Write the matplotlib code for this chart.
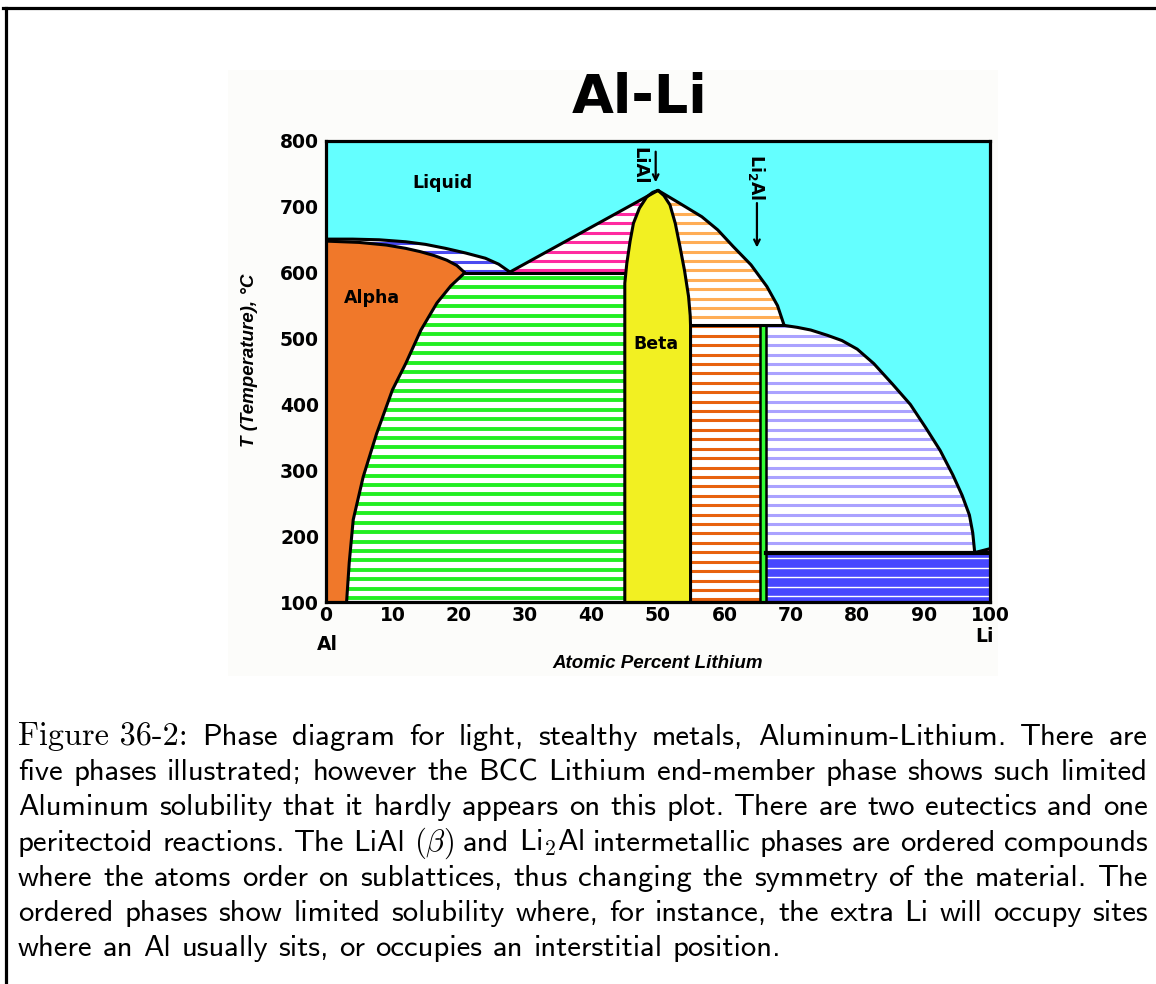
"""Al-Li phase diagram with its figure caption."""

import matplotlib

matplotlib.use("Agg")
import matplotlib.pyplot as plt
import numpy as np
from matplotlib.lines import Line2D
from matplotlib.patches import Polygon, Rectangle

plt.rcParams["mathtext.fontset"] = "cm"

W, H = 1156, 984
LABEL_FONT = ["Liberation Sans", "DejaVu Sans"]

# axis ticks
X_TICKS = [0, 10, 20, 30, 40, 50, 60, 70, 80, 90, 100]
Y_TICKS = [100, 200, 300, 400, 500, 600, 700, 800]

# phase boundaries, atomic % Li vs temperature (deg C)
ALPHA_LIQUIDUS_X = [0, 4, 8, 12, 15, 18, 21, 24, 26, 27.7]
ALPHA_LIQUIDUS_T = [651, 651, 650, 647, 643, 637, 630, 622, 613, 601]
ALPHA_SOLIDUS_X = [0, 5, 9.1, 12, 14.2, 16.3, 18.2, 19.7, 20.9]
ALPHA_SOLIDUS_T = [648, 646, 642, 637, 632, 626, 619, 611, 600]
ALPHA_SOLVUS_X = [20.9, 18.8, 16.7, 14.3, 12.0, 10.0, 7.6, 5.6, 4.1, 3.5, 3.1]
ALPHA_SOLVUS_T = [600, 580, 554, 513, 462, 422, 355, 290, 225, 160, 100]
EUTECTIC_AL_T = 600

BETA_LEFT_X = [45.0, 45.0, 45.3, 45.8, 46.3, 47.2, 48.3, 49.2, 50.0]
BETA_LEFT_T = [100, 584, 614, 648, 675, 698, 715, 722, 725]
BETA_RIGHT_X = [50.0, 50.9, 51.8, 52.6, 53.3, 54.0, 54.6, 54.85, 54.9, 54.9]
BETA_RIGHT_T = [725, 717, 703, 675, 640, 603, 564, 535, 520, 100]
BETA_LIQUIDUS_X = [50.0, 53.0, 56.6, 59.0, 61.3, 64.0, 66.4, 68.0, 69.0]
BETA_LIQUIDUS_T = [725, 707, 685, 665, 640, 612, 579, 550, 520]
PERITECTIC_T = 520

LI2AL_LEFT, LI2AL_RIGHT = 65.4, 66.2
LI2AL_LIQUIDUS_X = [69.0, 71.0, 73.0, 75.5, 77.7, 80.0, 82.5, 85.3, 88.0,
                    90.3, 92.5, 94.4, 95.8, 96.9, 97.4, 97.7]
LI2AL_LIQUIDUS_T = [520, 517, 513, 505, 497, 484, 462, 431, 400,
                    365, 330, 293, 262, 232, 205, 175]
EUTECTIC_LI_T = 175
LI_LIQUIDUS_X = [97.7, 100]
LI_LIQUIDUS_T = [175, 181]

CAPTION_LABEL = "Figure 36-2:"
CAPTION_LINES = [
    "Phase diagram for light, stealthy metals, Aluminum-Lithium. There are",
    "five phases illustrated; however the BCC Lithium end-member phase shows such limited",
    "Aluminum solubility that it hardly appears on this plot. There are two eutectics and one",
    r"peritectoid reactions. The LiAl $(\beta)$ and Li$_\mathrm{2}$Al intermetallic phases are ordered compounds",
    "where the atoms order on sublattices, thus changing the symmetry of the material. The",
    "ordered phases show limited solubility where, for instance, the extra Li will occupy sites",
    "where an Al usually sits, or occupies an interstitial position.",
]

STRIPE_STEP = 14.3


def hatched(ax, xs, ys, color, lw, base="white", offset=0.0):
    """Fill a region and lay horizontal stripes over it."""
    poly = Polygon(np.column_stack([xs, ys]), closed=True, facecolor=base,
                   edgecolor="none", zorder=2)
    ax.add_patch(poly)
    levels = np.arange(100 + offset, 800, STRIPE_STEP)
    lines = ax.hlines(levels, 0, 100, colors=color, lw=lw, zorder=3)
    lines.set_clip_path(poly)
    return poly


fig = plt.figure(figsize=(W / 100, H / 100), dpi=100)

# page frame and the pasted-in chart background
fig.add_artist(Line2D([3 / W, 1], [1 - 8 / H, 1 - 8 / H], color="black", lw=2.3))
fig.add_artist(Line2D([6 / W, 6 / W], [1 - 8 / H, 0], color="black", lw=2.3))
fig.add_artist(Rectangle((228 / W, 1 - 676 / H), 770 / W, 606 / H,
                         transform=fig.transFigure, facecolor="#fcfcfa",
                         edgecolor="none", zorder=0))

ax = fig.add_axes([326 / W, 1 - 602 / H, 664 / W, 461 / H])
ax.set_xlim(0, 100)
ax.set_ylim(100, 800)
ax.set_facecolor("#64ffff")
for spine in ax.spines.values():
    spine.set_linewidth(2.3)
    spine.set_zorder(10)

# alpha (Al) solid solution
alpha_x = np.concatenate([[0], ALPHA_SOLIDUS_X, ALPHA_SOLVUS_X[1:]])
alpha_t = np.concatenate([[100], ALPHA_SOLIDUS_T, ALPHA_SOLVUS_T[1:]])
ax.add_patch(Polygon(np.column_stack([alpha_x, alpha_t]), closed=True,
                     facecolor="#f0782a", edgecolor="none", zorder=2))

# liquid + alpha
hatched(ax, np.concatenate([ALPHA_LIQUIDUS_X, [ALPHA_SOLIDUS_X[-1]], ALPHA_SOLIDUS_X[::-1]]),
        np.concatenate([ALPHA_LIQUIDUS_T, [EUTECTIC_AL_T], ALPHA_SOLIDUS_T[::-1]]),
        "#4a4af0", 2.2, offset=2)

# alpha + beta
hatched(ax, np.concatenate([ALPHA_SOLVUS_X[::-1], [BETA_LEFT_X[0], BETA_LEFT_X[0]]]),
        np.concatenate([ALPHA_SOLVUS_T[::-1], [EUTECTIC_AL_T, 100]]),
        "#22ee22", 2.8, offset=6)

# beta (LiAl)
beta_x = np.concatenate([BETA_LEFT_X, BETA_RIGHT_X[1:]])
beta_t = np.concatenate([BETA_LEFT_T, BETA_RIGHT_T[1:]])
ax.add_patch(Polygon(np.column_stack([beta_x, beta_t]), closed=True,
                     facecolor="#f2f022", edgecolor="none", zorder=2))

# liquid + beta, Al side
hatched(ax, np.concatenate([[ALPHA_LIQUIDUS_X[-1]], BETA_LEFT_X[::-1][:-1], [BETA_LEFT_X[0]]]),
        np.concatenate([[EUTECTIC_AL_T], BETA_LEFT_T[::-1][:-1], [EUTECTIC_AL_T]]),
        "#ff2aa0", 2.2, offset=3)

# liquid + beta, Li side
hatched(ax, np.concatenate([BETA_LIQUIDUS_X, BETA_RIGHT_X[::-1][1:]]),
        np.concatenate([BETA_LIQUIDUS_T, BETA_RIGHT_T[::-1][1:]]),
        "#ffad55", 2.2, offset=3)

# beta + Li2Al
hatched(ax, [BETA_RIGHT_X[-1], LI2AL_LEFT, LI2AL_LEFT, BETA_RIGHT_X[-1]],
        [100, 100, PERITECTIC_T, PERITECTIC_T], "#e8620e", 2.2, offset=4)

# liquid + Li2Al
hatched(ax, np.concatenate([[LI2AL_RIGHT, LI2AL_RIGHT], LI2AL_LIQUIDUS_X]),
        np.concatenate([[EUTECTIC_LI_T, PERITECTIC_T], LI2AL_LIQUIDUS_T]),
        "#aaa2ff", 2.2, offset=4)

# Li2Al + Li
hatched(ax, [LI2AL_RIGHT, 100, 100, LI2AL_RIGHT],
        [100, 100, EUTECTIC_LI_T, EUTECTIC_LI_T], "white", 1.0,
        base="#4848ff", offset=9)

# liquid + Li sliver
ax.add_patch(Polygon(np.column_stack([LI_LIQUIDUS_X + [100], LI_LIQUIDUS_T + [EUTECTIC_LI_T]]),
                     closed=True, facecolor="#ff66cc", edgecolor="none", zorder=2))

# Li2Al line compound
ax.add_patch(Rectangle((LI2AL_LEFT, 100), LI2AL_RIGHT - LI2AL_LEFT, PERITECTIC_T - 100,
                       facecolor="#33ff33", edgecolor="black", lw=1.8, zorder=5))

# boundary lines
bk = dict(color="black", lw=2.2, zorder=6, solid_capstyle="round", solid_joinstyle="round")
ax.plot(ALPHA_LIQUIDUS_X, ALPHA_LIQUIDUS_T, **bk)
ax.plot(ALPHA_SOLIDUS_X, ALPHA_SOLIDUS_T, **bk)
ax.plot(ALPHA_SOLVUS_X, ALPHA_SOLVUS_T, **bk)
ax.plot([ALPHA_SOLVUS_X[0], BETA_LEFT_X[0]], [EUTECTIC_AL_T, EUTECTIC_AL_T], **bk)
ax.plot([ALPHA_LIQUIDUS_X[-1], BETA_LEFT_X[-1]], [ALPHA_LIQUIDUS_T[-1], BETA_LEFT_T[-1]], **bk)
ax.plot(BETA_LEFT_X, BETA_LEFT_T, **bk)
ax.plot(BETA_RIGHT_X, BETA_RIGHT_T, **bk)
ax.plot(BETA_LIQUIDUS_X, BETA_LIQUIDUS_T, **bk)
ax.plot([BETA_RIGHT_X[-1], LI2AL_LIQUIDUS_X[0]], [PERITECTIC_T, PERITECTIC_T], **bk)
ax.plot(LI2AL_LIQUIDUS_X, LI2AL_LIQUIDUS_T, **bk)
ax.plot([LI2AL_RIGHT, 100], [EUTECTIC_LI_T, EUTECTIC_LI_T], color="black", lw=3.0, zorder=6)
ax.plot(LI_LIQUIDUS_X, LI_LIQUIDUS_T, **bk)

# ticks
ax.set_xticks(X_TICKS)
ax.set_yticks(Y_TICKS)
ax.tick_params(length=0)
ax.tick_params(axis="y", pad=5)
ax.tick_params(axis="x", pad=3)
for lab in ax.get_xticklabels() + ax.get_yticklabels():
    lab.set_fontweight("bold")
    lab.set_fontsize(13.5)

# phase names and compound markers
ax.text(17.6, 736, "Liquid", fontsize=12.5, fontweight="bold", ha="center", va="center", zorder=8)
ax.text(6.9, 562, "Alpha", fontsize=12.5, fontweight="bold", ha="center", va="center", zorder=8)
ax.text(49.7, 492, "Beta", fontsize=12.5, fontweight="bold", ha="center", va="center", zorder=8)
ax.text(47.2, 762, "LiAl", fontsize=13, fontweight="bold", rotation=270,
        ha="center", va="center", zorder=8)
ax.annotate("", xy=(49.65, 733), xytext=(49.65, 788),
            arrowprops=dict(arrowstyle="->", lw=1.6, color="black"), zorder=8)
ax.text(64.9, 746, r"Li$_\mathbf{2}$Al", fontsize=12.5, fontweight="bold", rotation=270,
        ha="center", va="center", math_fontfamily="dejavusans", zorder=8)
ax.annotate("", xy=(64.9, 634), xytext=(64.9, 710),
            arrowprops=dict(arrowstyle="->", lw=1.6, color="black"), zorder=8)

# titles and axis labels
fig.text(639.5 / W, 1 - 98 / H, "Al-Li", fontsize=39, fontweight="bold", ha="center", va="center")
fig.text(327 / W, 1 - 645 / H, "Al", fontsize=13.5, fontweight="bold", ha="center", va="center")
fig.text(984 / W, 1 - 637 / H, "Li", fontsize=13.5, fontweight="bold", ha="center", va="center")
fig.text(658 / W, 1 - 664 / H, "Atomic Percent Lithium", family=LABEL_FONT, fontsize=13.5,
         fontweight="bold", style="italic", ha="center", va="center")
fig.text(249 / W, 1 - 360 / H, "T (Temperature), °C", family=LABEL_FONT, fontsize=13.5,
         fontweight="bold", style="italic", rotation=90, ha="center", va="center")

# caption, justified word by word
renderer = fig.canvas.get_renderer()


def text_width(s, **kw):
    t = fig.text(0, 0, s, **kw)
    w = t.get_window_extent(renderer).width
    t.remove()
    return w


LEFT, RIGHT = 18, 1148
trial = 20
last_w = text_width(CAPTION_LINES[-1], family="cmss10", fontsize=trial)
cap_fs = trial * (783 - LEFT) / last_w
space_w = text_width("a a", family="cmss10", fontsize=cap_fs) - text_width("aa", family="cmss10", fontsize=cap_fs)

for i, line in enumerate(CAPTION_LINES):
    y = 1 - (745 + i * 35.2) / H
    words = line.split(" ")
    texts = []
    if i == 0:
        texts.append(fig.text(0, y, CAPTION_LABEL, family="cmr10", fontsize=cap_fs * 1.05, va="baseline"))
    for w in words:
        texts.append(fig.text(0, y, w, family="cmss10", fontsize=cap_fs, va="baseline"))
    widths = [t.get_window_extent(renderer).width for t in texts]
    if i == len(CAPTION_LINES) - 1:
        gap = space_w
    else:
        gap = (RIGHT - LEFT - sum(widths)) / (len(texts) - 1)
    x = LEFT
    for t, w in zip(texts, widths):
        t.set_x(x / W)
        x += w + gap

fig.savefig("out.png", dpi=100)
